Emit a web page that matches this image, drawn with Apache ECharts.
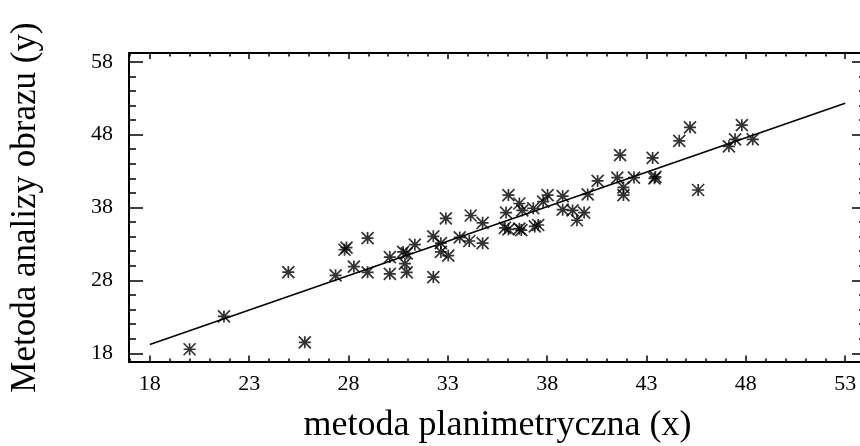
<!DOCTYPE html>
<html>
<head>
<meta charset="utf-8">
<script src="https://cdn.jsdelivr.net/npm/echarts@6/dist/echarts.min.js"></script>
<style>html,body{margin:0;padding:0;background:#fff}#c{width:860px;height:446px}</style>
</head>
<body>
<div id="c"></div>
<script>
// data
const xVals = [20.0, 21.73, 24.97, 25.8, 27.35, 27.8, 27.9, 28.27, 28.96, 28.96, 30.08, 30.08, 30.75, 30.93, 30.84, 30.93, 31.34, 32.27, 32.27, 32.65, 32.65, 33.02, 32.9, 33.6, 34.08, 34.15, 34.75, 34.75, 35.93, 35.87, 36.05, 36.6, 36.7, 36.75, 36.6, 37.3, 37.38, 37.55, 37.8, 38.78, 39.28, 39.5, 39.86, 36.05, 38.02, 38.78, 40.04, 40.54, 41.53, 41.67, 41.84, 41.84, 42.37, 43.31, 43.4, 43.45, 44.65, 45.19, 45.6, 47.15, 47.46, 47.8, 48.35];
const yVals = [18.55, 23.05, 29.14, 19.5, 28.7, 32.2, 32.5, 29.9, 33.8, 29.1, 31.2, 28.9, 31.9, 31.7, 30.3, 29.1, 32.9, 28.45, 34.05, 33.1, 31.9, 31.4, 36.5, 33.9, 33.4, 36.9, 35.9, 33.1, 37.3, 35.2, 35.0, 35.1, 34.9, 37.6, 38.55, 37.9, 35.4, 35.6, 38.8, 37.7, 37.6, 36.25, 37.3, 39.7, 39.7, 39.55, 39.8, 41.65, 42.1, 45.2, 40.75, 39.7, 42.1, 44.8, 42.0, 42.2, 47.15, 49.0, 40.4, 46.4, 47.35, 49.3, 47.35];
const fitX = [18, 53];
const fitY = [19.2, 52.3];
const xTickLabels = [18, 23, 28, 33, 38, 43, 48, 53];
const xMinorTicks = [17, 19, 20, 21, 22, 24, 25, 26, 27, 29, 30, 31, 32, 34, 35, 36, 37, 39, 40, 41, 42, 44, 45, 46, 47, 49, 50, 51, 52, 54];
const yTickLabels = [18, 28, 38, 48, 58];
const yMinorTicks = [20, 22, 24, 26, 30, 32, 34, 36, 40, 42, 44, 46, 50, 52, 54, 56];
const xRange = [16.95, 54.05];
const yRange = [16.8, 59.2];
const xTitle = 'metoda planimetryczna (x)';
const yTitle = 'Metoda analizy obrazu (y)';

const FONT = '"Liberation Serif", "Times New Roman", serif';
const lineStyle = {color: '#000', width: 2};

function xAx(pos, ticks, len, withLine, withLabel, name) {
  return {
    type: 'value', position: pos, min: xRange[0], max: xRange[1], gridIndex: 0,
    axisLine: {show: withLine, onZero: false, lineStyle: lineStyle},
    axisTick: {show: true, inside: true, length: len, customValues: ticks, lineStyle: {color: '#000', width: 1.5}},
    axisLabel: withLabel ? {show: true, customValues: ticks, margin: 11, color: '#000', fontFamily: FONT, fontSize: 22} : {show: false},
    splitLine: {show: false},
    name: name || '', nameLocation: 'middle', nameGap: 46,
    nameTextStyle: {color: '#000', fontFamily: FONT, fontSize: 36}
  };
}
function yAx(pos, ticks, len, withLine, withLabel, name) {
  return {
    type: 'value', position: pos, min: yRange[0], max: yRange[1], gridIndex: 0,
    axisLine: {show: withLine, onZero: false, lineStyle: lineStyle},
    axisTick: {show: true, inside: true, length: len, customValues: ticks, lineStyle: {color: '#000', width: 1.5}},
    axisLabel: withLabel ? {show: true, customValues: ticks, margin: 16, color: '#000', fontFamily: FONT, fontSize: 22} : {show: false},
    splitLine: {show: false},
    name: name || '', nameLocation: 'middle', nameGap: 86, nameRotate: 90,
    nameTextStyle: {color: '#000', fontFamily: FONT, fontSize: 35}
  };
}

const chart = echarts.init(document.getElementById('c'), null, {renderer: 'canvas'});
chart.setOption({
  backgroundColor: '#fff',
  animation: false,
  grid: {left: 129, top: 53, width: 737, height: 309, containLabel: false, outerBoundsMode: 'none'},
  xAxis: [
    xAx('bottom', xTickLabels, 6.5, true, true, xTitle),
    xAx('bottom', xMinorTicks, 3.5, false, false),
    xAx('top', xTickLabels, 6, true, false),
    xAx('top', xMinorTicks, 3.5, false, false)
  ],
  yAxis: [
    yAx('left', yTickLabels, 14, true, true, yTitle),
    yAx('left', yMinorTicks, 7, false, false),
    yAx('right', yTickLabels, 14, true, false),
    yAx('right', yMinorTicks, 7, false, false)
  ],
  series: [
    {
      type: 'scatter', xAxisIndex: 0, yAxisIndex: 0,
      symbol: 'path://M6 0L6 12M0 0L12 12M12 0L0 12M0 6L12 6',
      symbolSize: [12, 12],
      itemStyle: {color: 'rgba(0,0,0,0)', borderColor: '#000', borderWidth: 1.7},
      data: xVals.map((x, i) => [x, yVals[i]]),
      z: 3
    },
    {
      type: 'line', xAxisIndex: 0, yAxisIndex: 0,
      showSymbol: false, symbol: 'none',
      lineStyle: {color: '#000', width: 1.5},
      data: fitX.map((x, i) => [x, fitY[i]]),
      z: 2
    }
  ]
});
</script>
</body>
</html>
